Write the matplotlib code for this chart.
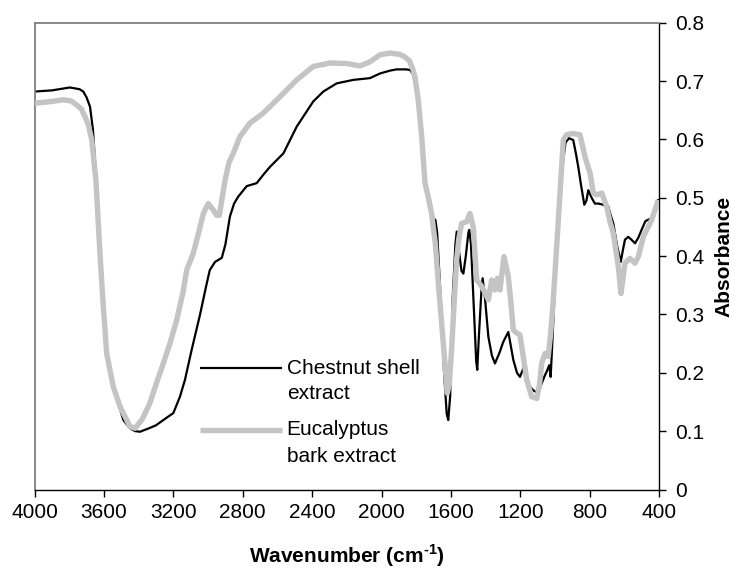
import matplotlib
matplotlib.use("Agg")
import matplotlib.pyplot as plt
from matplotlib.lines import Line2D
from matplotlib.ticker import FixedLocator, FuncFormatter

plt.rcParams['font.family'] = ['Liberation Sans', 'DejaVu Sans']
plt.rcParams['mathtext.fontset'] = 'custom'
plt.rcParams['mathtext.rm'] = 'Liberation Sans:bold'
plt.rcParams['mathtext.bf'] = 'Liberation Sans:bold'

# Chestnut shell extract (wavenumber, absorbance)
chestnut_wn = [4000, 3900, 3796, 3740, 3719, 3700, 3680, 3663, 3642, 3623, 3605, 3585, 3546, 3488,
               3450, 3420, 3392, 3340, 3300, 3258, 3200, 3162, 3133, 3094, 3046, 3010, 2990, 2960,
               2921, 2900, 2874, 2850, 2826, 2777, 2720, 2680, 2643, 2566, 2489, 2394, 2336, 2259,
               2163, 2067, 2009, 1950, 1913, 1860, 1836, 1820, 1808, 1790, 1770, 1750, 1730, 1712,
               1700, 1690, 1680, 1660, 1640, 1625, 1616, 1605, 1590, 1575, 1567, 1555, 1540, 1529,
               1515, 1500, 1495, 1485, 1470, 1455, 1449, 1440, 1425, 1418, 1405, 1385, 1365, 1347,
               1320, 1299, 1270, 1255, 1241, 1220, 1203, 1180, 1160, 1145, 1126, 1100, 1080, 1060,
               1049, 1034, 1026, 1015, 1000, 982, 960, 940, 920, 896, 880, 867, 850, 832, 820, 809,
               790, 771, 750, 723, 694, 680, 665, 642, 622, 610, 598, 579, 560, 540, 520, 502, 480,
               444, 406]
chestnut_abs = [0.682, 0.684, 0.689, 0.686, 0.682, 0.672, 0.656, 0.616, 0.519, 0.405, 0.320, 0.240,
                0.176, 0.119, 0.105, 0.100, 0.099, 0.105, 0.110, 0.119, 0.131, 0.159, 0.188, 0.240,
                0.300, 0.350, 0.376, 0.390, 0.397, 0.420, 0.468, 0.490, 0.502, 0.520, 0.525, 0.540,
                0.553, 0.576, 0.622, 0.665, 0.682, 0.696, 0.702, 0.705, 0.713, 0.718, 0.720, 0.720,
                0.719, 0.712, 0.699, 0.660, 0.600, 0.520, 0.490, 0.470, 0.464, 0.462, 0.440, 0.330,
                0.200, 0.130, 0.119, 0.160, 0.330, 0.420, 0.442, 0.410, 0.375, 0.370, 0.400, 0.440,
                0.445, 0.420, 0.320, 0.220, 0.205, 0.260, 0.340, 0.362, 0.330, 0.262, 0.230, 0.216,
                0.235, 0.253, 0.270, 0.245, 0.222, 0.200, 0.193, 0.210, 0.190, 0.176, 0.170, 0.165,
                0.180, 0.195, 0.202, 0.213, 0.193, 0.260, 0.360, 0.460, 0.550, 0.595, 0.602, 0.599,
                0.575, 0.553, 0.520, 0.488, 0.495, 0.513, 0.500, 0.490, 0.490, 0.488, 0.485, 0.470,
                0.456, 0.416, 0.390, 0.410, 0.428, 0.433, 0.428, 0.422, 0.432, 0.445, 0.460, 0.465,
                0.496]

# Eucalyptus bark extract (wavenumber, absorbance)
eucalyptus_wn = [4000, 3900, 3834, 3790, 3757, 3730, 3709, 3690, 3670, 3646, 3623, 3605, 3584, 3546,
                 3507, 3450, 3421, 3380, 3335, 3300, 3258, 3220, 3181, 3143, 3123, 3085, 3050, 3027,
                 2999, 2970, 2950, 2935, 2902, 2880, 2855, 2816, 2758, 2682, 2586, 2489, 2394, 2297,
                 2201, 2125, 2067, 2009, 1952, 1900, 1875, 1840, 1820, 1808, 1790, 1769, 1750, 1730,
                 1712, 1690, 1673, 1650, 1635, 1622, 1610, 1597, 1580, 1568, 1555, 1539, 1510, 1491,
                 1472, 1452, 1423, 1400, 1385, 1366, 1347, 1333, 1318, 1295, 1270, 1255, 1241, 1220,
                 1203, 1185, 1164, 1135, 1106, 1090, 1078, 1059, 1040, 1025, 1011, 982, 953, 934, 900,
                 857, 828, 799, 780, 760, 732, 703, 685, 665, 636, 621, 610, 598, 569, 540, 521, 492,
                 444, 406]
eucalyptus_abs = [0.662, 0.665, 0.668, 0.666, 0.659, 0.652, 0.639, 0.625, 0.599, 0.530, 0.405, 0.320,
                  0.233, 0.176, 0.142, 0.108, 0.105, 0.120, 0.148, 0.180, 0.216, 0.250, 0.290, 0.340,
                  0.376, 0.405, 0.445, 0.473, 0.490, 0.479, 0.470, 0.470, 0.530, 0.560, 0.576, 0.605,
                  0.628, 0.645, 0.673, 0.702, 0.725, 0.731, 0.730, 0.726, 0.733, 0.745, 0.748, 0.746,
                  0.743, 0.735, 0.720, 0.707, 0.670, 0.605, 0.525, 0.500, 0.473, 0.420, 0.353, 0.270,
                  0.216, 0.165, 0.180, 0.239, 0.330, 0.393, 0.430, 0.456, 0.459, 0.473, 0.450, 0.359,
                  0.348, 0.335, 0.325, 0.359, 0.342, 0.362, 0.342, 0.399, 0.365, 0.320, 0.273, 0.268,
                  0.265, 0.230, 0.188, 0.159, 0.156, 0.180, 0.216, 0.233, 0.228, 0.270, 0.325, 0.460,
                  0.599, 0.608, 0.610, 0.608, 0.570, 0.542, 0.508, 0.505, 0.508, 0.485, 0.460, 0.439,
                  0.382, 0.336, 0.360, 0.388, 0.396, 0.388, 0.399, 0.433, 0.462, 0.496]

series_labels = [["Chestnut shell", "extract"], ["Eucalyptus", "bark extract"]]
x_ticks = [4000, 3600, 3200, 2800, 2400, 2000, 1600, 1200, 800, 400]
y_ticks = [0, 0.1, 0.2, 0.3, 0.4, 0.5, 0.6, 0.7, 0.8]

FS = 15

fig = plt.figure(figsize=(7.35, 5.72), dpi=100)
ax = fig.add_axes([34.5 / 735, 1 - 489.5 / 572, 624.8 / 735, 466.8 / 572])

black_col = '#000000'
gray_col = '#c4c4c4'
ax.plot(chestnut_wn, chestnut_abs, color=black_col, lw=1.6, zorder=2)
ax.plot(eucalyptus_wn, eucalyptus_abs, color=gray_col, lw=3.9, zorder=3,
        solid_capstyle='butt', solid_joinstyle='round')

ax.set_xlim(4000, 400)
ax.set_ylim(0, 0.8)
ax.xaxis.set_major_locator(FixedLocator(x_ticks))
ax.yaxis.set_major_locator(FixedLocator(y_ticks))
ax.yaxis.set_major_formatter(FuncFormatter(lambda v, p: '0' if abs(v) < 1e-9 else f'{v:.1f}'))

ax.yaxis.tick_right()
ax.yaxis.set_label_position('right')
ax.tick_params(axis='both', direction='out', length=5, width=1, labelsize=FS, colors='black')
ax.tick_params(axis='x', pad=4.5)
ax.tick_params(axis='y', pad=6.5)

for s in ['left', 'top']:
    ax.spines[s].set_color('#808080')
    ax.spines[s].set_linewidth(1.3)
for s in ['right', 'bottom']:
    ax.spines[s].set_color('black')
    ax.spines[s].set_linewidth(1.0)

ax.set_xlabel(r'Wavenumber (cm$^{\text{-1}}$)', fontsize=FS, fontweight='bold', labelpad=15)
ax.set_ylabel('Absorbance', fontsize=FS, fontweight='bold', labelpad=7)

# manual legend
leg_x0, leg_x1, txt_x = 0.265, 0.3956, 0.4037
rows = [(0.2596, 0.2067, black_col, 1.6), (0.1275, 0.0703, gray_col, 3.9)]
for (y1, y2, col, lw), lab in zip(rows, series_labels):
    ax.add_line(Line2D([leg_x0, leg_x1], [y1, y1], transform=ax.transAxes, color=col, lw=lw,
                       solid_capstyle='butt'))
    ax.text(txt_x, y1, lab[0], transform=ax.transAxes, fontsize=FS, va='center', ha='left')
    ax.text(txt_x, y2, lab[1], transform=ax.transAxes, fontsize=FS, va='center', ha='left')

fig.savefig('out.png', dpi=100)
